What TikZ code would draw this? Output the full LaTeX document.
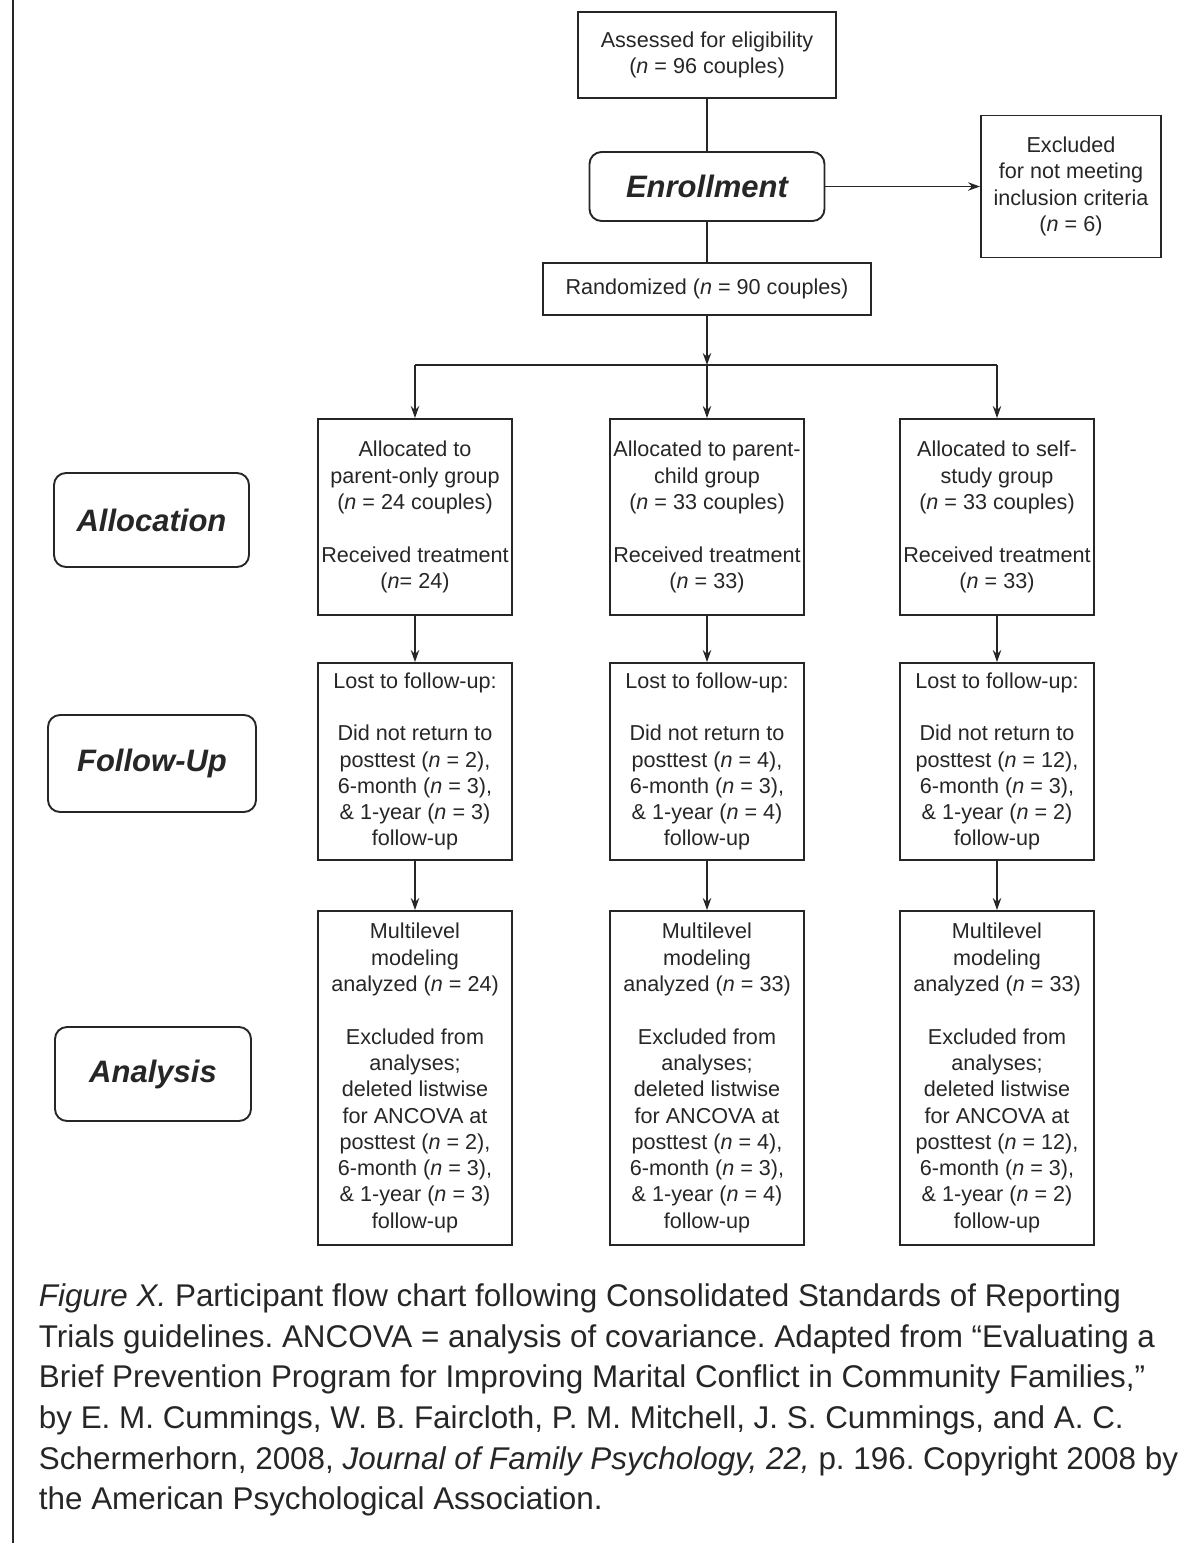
\documentclass[tikz,border=0pt]{standalone}
\usepackage{fontspec}
\setmainfont{Liberation Sans}
\usetikzlibrary{arrows.meta}
\frenchspacing

\begin{document}
\begin{tikzpicture}[x=0.5pt,y=-0.5pt,->,>={Stealth[length=6pt,width=4.2pt]},
		line width=0.95pt,color=black!85,
		main box/.style={rectangle,draw,inner sep=0pt,align=center,font=\fontsize{10.8}{13.15}\selectfont},
		phase node/.style={rectangle,draw,rounded corners=6pt,inner sep=0pt,font=\fontsize{15.5}{18}\selectfont\bfseries\itshape}]

		\useasboundingbox (0,0) rectangle (1203,1543);
		\draw[-,line width=1pt] (13,0) -- (13,1543);

		\node[main box, minimum width=129pt, minimum height=43pt] (assess) at (707,55) {Assessed for eligibility\\(\textit{n} = 96 couples)};
		\node[phase node, minimum width=117.5pt, minimum height=34.5pt] (enroll) at (707,186.5) {Enrollment};
		\node[main box, minimum width=90pt, minimum height=71pt] (excl) at (1071,186.5) {Excluded\\for not meeting\\inclusion criteria\\(\textit{n} = 6)};
		\node[main box, minimum width=164pt, minimum height=26pt] (random) at (707,289) {Randomized (\textit{n} = 90 couples)};
		\coordinate (split) at (707,365);
		\coordinate (split left) at (415,365);
		\coordinate (split right) at (997,365);

		% allocation row
		\node[phase node, minimum width=97.5pt, minimum height=47pt] (allocation) at (151.5,520) {Allocation};
		\node[main box, minimum width=97pt, minimum height=98pt] (alloc1) at (415,517) {Allocated to\\parent-only group\\(\textit{n} = 24 couples)\\[13.15pt]Received treatment\\(\textit{n}= 24)};
		\node[main box, minimum width=97pt, minimum height=98pt] (alloc2) at (707,517) {Allocated to parent-\\child group\\(\textit{n} = 33 couples)\\[13.15pt]Received treatment\\(\textit{n} = 33)};
		\node[main box, minimum width=97pt, minimum height=98pt] (alloc3) at (997,517) {Allocated to self-\\study group\\(\textit{n} = 33 couples)\\[13.15pt]Received treatment\\(\textit{n} = 33)};

		% follow-up row
		\node[phase node, minimum width=104pt, minimum height=48.5pt] (followup) at (152,763.5) {Follow-Up};
		\node[main box, minimum width=97pt, minimum height=98.5pt] (follow1) at (415,761.5) {Lost to follow-up:\\[13.15pt]Did not return to\\posttest (\textit{n} = 2),\\6-month (\textit{n} = 3),\\\& 1-year (\textit{n} = 3)\\follow-up};
		\node[main box, minimum width=97pt, minimum height=98.5pt] (follow2) at (707,761.5) {Lost to follow-up:\\[13.15pt]Did not return to\\posttest (\textit{n} = 4),\\6-month (\textit{n} = 3),\\\& 1-year (\textit{n} = 4)\\follow-up};
		\node[main box, minimum width=97pt, minimum height=98.5pt] (follow3) at (997,761.5) {Lost to follow-up:\\[13.15pt]Did not return to\\posttest (\textit{n} = 12),\\6-month (\textit{n} = 3),\\\& 1-year (\textit{n} = 2)\\follow-up};

		% analysis row
		\node[phase node, minimum width=98pt, minimum height=47pt] (analysis) at (153,1074) {Analysis};
		\node[main box, minimum width=97pt, minimum height=167pt] (anal1) at (415,1078) {Multilevel\\modeling\\analyzed (\textit{n} = 24)\\[13.15pt]Excluded from\\analyses;\\deleted listwise\\for ANCOVA at\\posttest (\textit{n} = 2),\\6-month (\textit{n} = 3),\\\& 1-year (\textit{n} = 3)\\follow-up};
		\node[main box, minimum width=97pt, minimum height=167pt] (anal2) at (707,1078) {Multilevel\\modeling\\analyzed (\textit{n} = 33)\\[13.15pt]Excluded from\\analyses;\\deleted listwise\\for ANCOVA at\\posttest (\textit{n} = 4),\\6-month (\textit{n} = 3),\\\& 1-year (\textit{n} = 4)\\follow-up};
		\node[main box, minimum width=97pt, minimum height=167pt] (anal3) at (997,1078) {Multilevel\\modeling\\analyzed (\textit{n} = 33)\\[13.15pt]Excluded from\\analyses;\\deleted listwise\\for ANCOVA at\\posttest (\textit{n} = 12),\\6-month (\textit{n} = 3),\\\& 1-year (\textit{n} = 2)\\follow-up};

		\node[anchor=north west, inner sep=0pt, align=left, font=\fontsize{15.7}{20.3}\selectfont] (caption) at (38,1283) {\textit{Figure X.} Participant flow chart following Consolidated Standards of Reporting\\Trials guidelines. ANCOVA = analysis of covariance. Adapted from “Evaluating a\\Brief Prevention Program for Improving Marital Conflict in Community Families,”\\by E. M. Cummings, W. B. Faircloth, P. M. Mitchell, J. S. Cummings, and A. C.\\Schermerhorn, 2008, \textit{Journal of Family Psychology, 22,} p. 196. Copyright 2008 by\\the American Psychological Association.};

		\path
		(assess) edge[-] (enroll)
		(enroll) edge (excl)
		(enroll) edge[-] (random)
		(random) edge (split)
		(split left) edge[-] (split right)
		(split left) edge (alloc1)
		(split) edge (alloc2)
		(split right) edge (alloc3)
		(alloc1) edge (follow1)
		(alloc2) edge (follow2)
		(alloc3) edge (follow3)
		(follow1) edge (anal1)
		(follow2) edge (anal2)
		(follow3) edge (anal3);
\end{tikzpicture}
\end{document}
